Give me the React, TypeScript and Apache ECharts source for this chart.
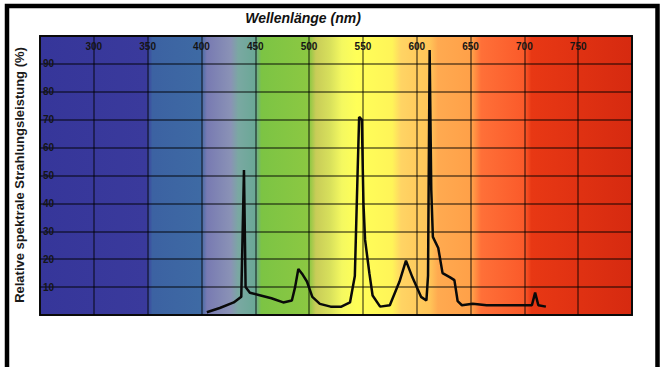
import React, { useEffect, useRef } from "react";
import * as echarts from "echarts";

// Wavelength (nm) and relative spectral radiant power (%)
const wavelengthNm = [
  405, 417, 430, 437, 439.5, 441, 445, 455, 465, 476, 484, 487, 490, 494, 498,
  503, 510, 520, 530, 538, 542.5, 545, 546.5, 549, 550.5, 552, 556, 559, 566,
  575, 584, 590, 596, 604, 609, 610.5, 612, 613.5, 615, 620, 624, 631, 635, 638,
  642, 652, 665, 680, 699, 707, 710, 713, 720,
];
const intensityPct = [
  1, 2.5, 4.5, 6.5, 52, 10, 8, 7, 6, 4.5, 5.2, 10, 16.5, 14.5, 12, 6.5, 4, 3,
  3, 4.5, 14, 50, 71, 70, 40, 27, 15, 7, 3, 3.5, 12, 19.5, 13.5, 6.5, 5.2, 14,
  95, 45, 28, 24, 15, 13.5, 12.5, 5, 3.5, 4, 3.5, 3.5, 3.5, 3.5, 8, 3.5, 3,
];

const xMin = 250;
const xMax = 800;
const xStep = 50;
const yMin = 0;
const yMax = 100;
const yStep = 10;

const titleText = "Wellenlänge (nm)";
const yTitleText = "Relative spektrale Strahlungsleistung (%)";

export default function App() {
  const ref = useRef<HTMLDivElement>(null);

  useEffect(() => {
    if (!ref.current) return;
    const chart = echarts.init(ref.current, undefined, { renderer: "svg" });

    const spectrum = new echarts.graphic.LinearGradient(0, 0, 1, 0, [
      { offset: 0, color: "#36369a" },
      { offset: 0.18, color: "#3a3a9c" },
      { offset: 0.19, color: "#3c62a2" },
      { offset: 0.272, color: "#3e6aa4" },
      { offset: 0.282, color: "#787ab2" },
      { offset: 0.322, color: "#8a92b6" },
      { offset: 0.335, color: "#7aa8a2" },
      { offset: 0.364, color: "#6aa896" },
      { offset: 0.374, color: "#7cc444" },
      { offset: 0.455, color: "#8cc842" },
      { offset: 0.466, color: "#c8cc58" },
      { offset: 0.49, color: "#d8e05c" },
      { offset: 0.51, color: "#f4f860" },
      { offset: 0.535, color: "#ffff58" },
      { offset: 0.595, color: "#fff458" },
      { offset: 0.61, color: "#ffd464" },
      { offset: 0.659, color: "#ffc458" },
      { offset: 0.672, color: "#ffaa50" },
      { offset: 0.73, color: "#ffa048" },
      { offset: 0.745, color: "#ff7038" },
      { offset: 0.818, color: "#fa5a2a" },
      { offset: 0.83, color: "#e83814" },
      { offset: 1, color: "#d62a10" },
    ]);

    const data = wavelengthNm.map((x, i) => [x, intensityPct[i]]);

    chart.setOption({
      animation: false,
      backgroundColor: "#ffffff",
      grid: {
        left: 40,
        top: 36,
        width: 592,
        height: 279,
        show: true,
        backgroundColor: spectrum,
        borderColor: "#141414",
        borderWidth: 2,
      },
      xAxis: {
        type: "value",
        min: xMin,
        max: xMax,
        interval: xStep,
        position: "top",
        axisLine: { show: false },
        axisTick: { show: false },
        axisLabel: {
          inside: true,
          margin: 5,
          showMinLabel: false,
          showMaxLabel: false,
          fontSize: 10,
          fontWeight: "bold",
          fontFamily: "Liberation Sans",
          color: "#151515",
        },
        splitLine: {
          show: true,
          lineStyle: { color: "rgba(0,0,0,0.58)", width: 1.5 },
        },
      },
      yAxis: {
        type: "value",
        min: yMin,
        max: yMax,
        interval: yStep,
        axisLine: { show: false },
        axisTick: { show: false },
        axisLabel: {
          inside: true,
          margin: 3,
          showMinLabel: false,
          showMaxLabel: false,
          fontSize: 10,
          fontWeight: "bold",
          fontFamily: "Liberation Sans",
          color: "#151515",
        },
        splitLine: {
          show: true,
          lineStyle: { color: "rgba(0,0,0,0.62)", width: 1.7 },
        },
      },
      series: [
        {
          type: "line",
          data,
          symbol: "none",
          smooth: false,
          z: 5,
          lineStyle: { color: "#0a0a0a", width: 2.5 },
        },
      ],
      graphic: [
        {
          type: "rect",
          z: 100,
          shape: { x: 7, y: 6, width: 650.5, height: 420 },
          style: { fill: "none", stroke: "#000000", lineWidth: 4.5 },
        },
        {
          type: "text",
          x: 303,
          y: 18,
          style: {
            text: titleText,
            textAlign: "center",
            textVerticalAlign: "middle",
            fontSize: 14,
            fontWeight: "bold",
            fontStyle: "italic",
            fontFamily: "Liberation Sans",
            fill: "#111111",
          },
        },
        {
          type: "text",
          x: 19,
          y: 175,
          rotation: Math.PI / 2,
          style: {
            text: yTitleText,
            textAlign: "center",
            textVerticalAlign: "middle",
            fontSize: 13,
            fontWeight: "bold",
            fontFamily: "Liberation Sans",
            fill: "#1a1a1a",
          },
        },
      ],
    });

    return () => chart.dispose();
  }, []);

  return (
    <div
      ref={ref}
      style={{ position: "fixed", left: 0, top: 0, width: 663, height: 367 }}
    />
  );
}
